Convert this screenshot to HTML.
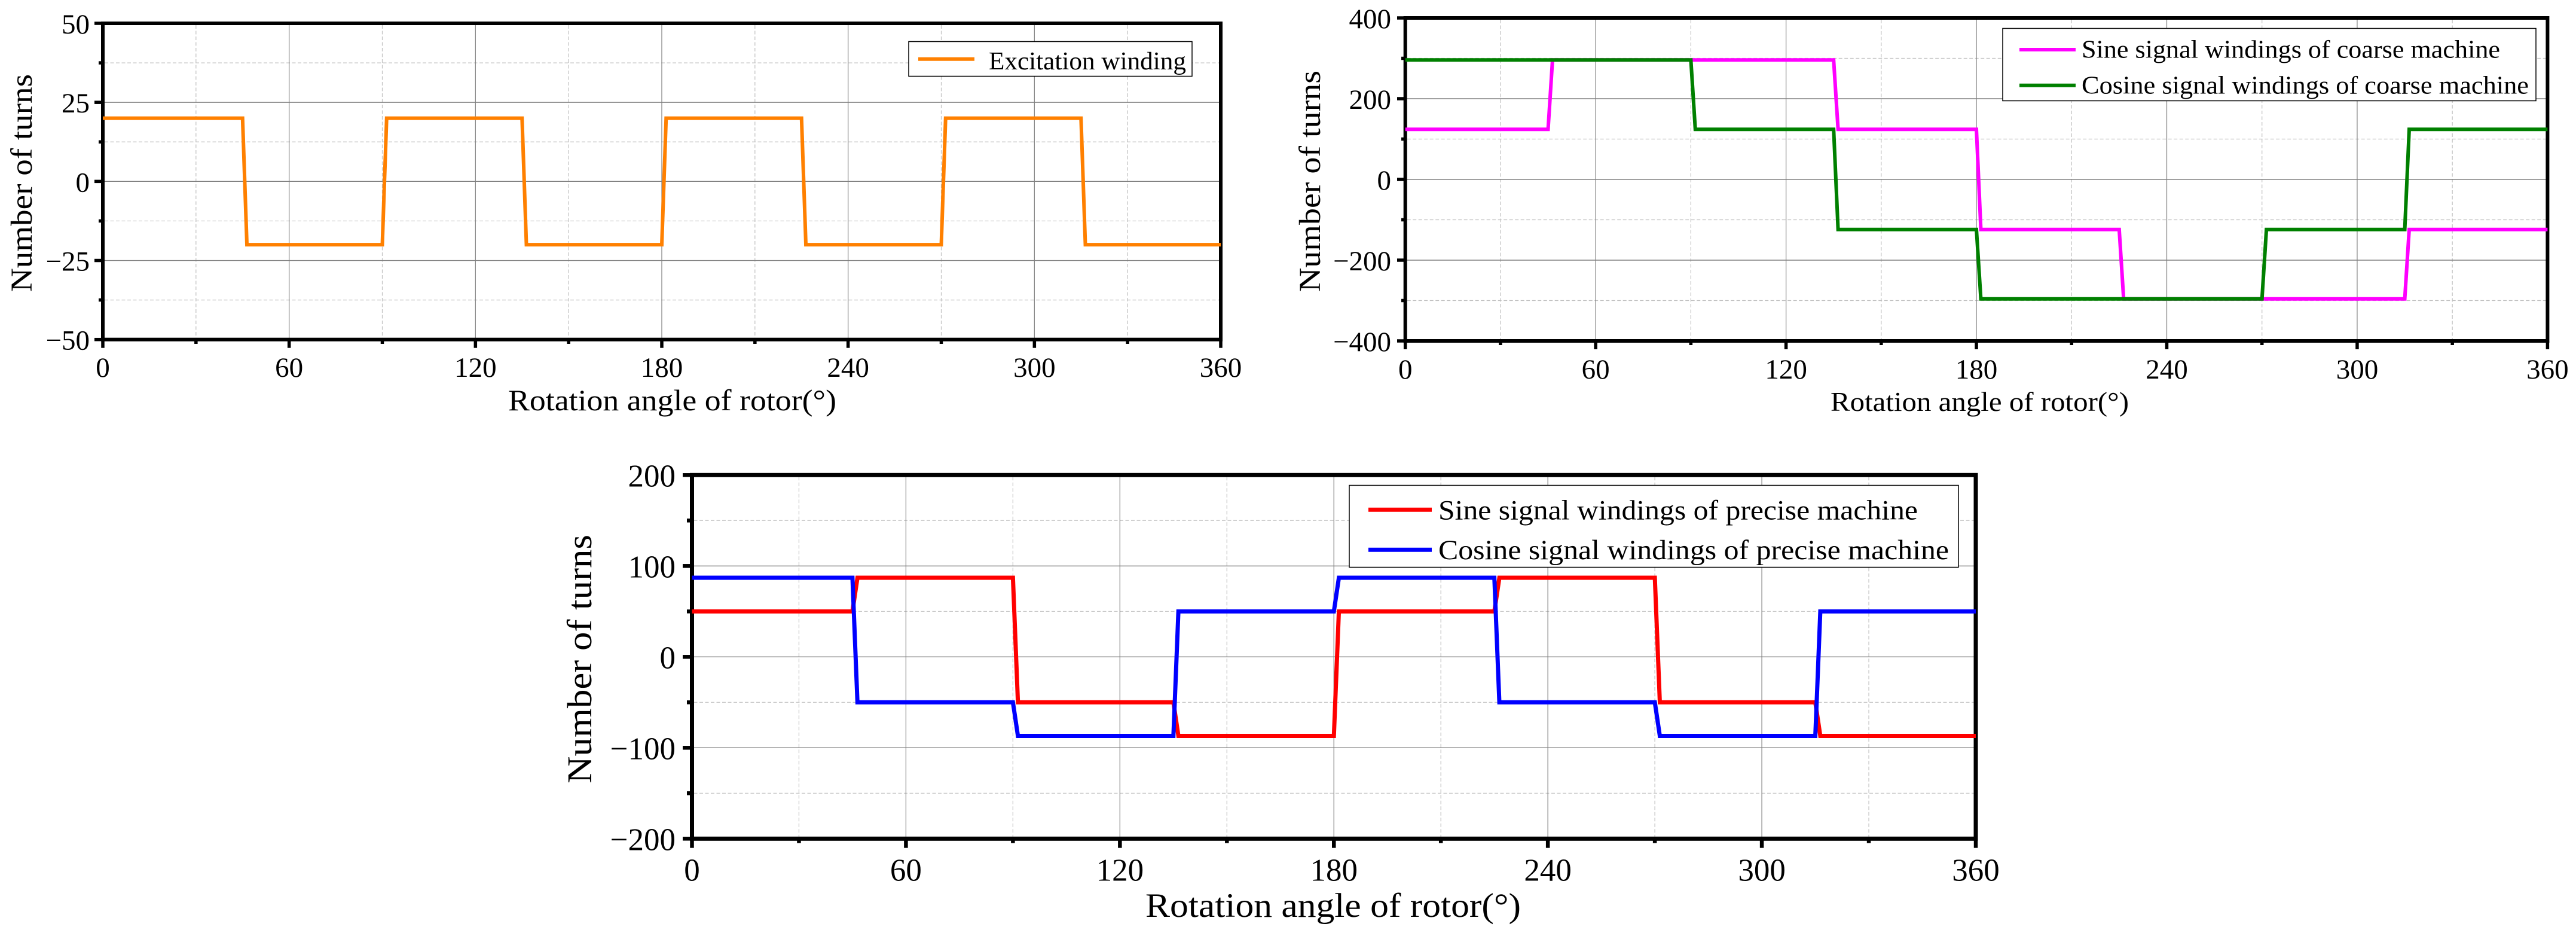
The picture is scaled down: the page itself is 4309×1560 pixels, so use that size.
<!DOCTYPE html>
<html lang="en">
<head>
<meta charset="utf-8">
<title>Winding turns versus rotor rotation angle</title>
<style>
  html, body { margin: 0; padding: 0; background: #fff; }
  svg { display: block; }
  text { font-family: "Liberation Serif", serif; fill: #000; }
</style>
</head>
<body>
<svg xmlns="http://www.w3.org/2000/svg" width="4309" height="1560" viewBox="0 0 4309 1560">
  <rect width="4309" height="1560" fill="#fff"/>

  <g id="chart-excitation">
    <g id="plot-excitation"></g>
    <text transform="translate(53,488) rotate(-90)" font-size="51" textLength="364" lengthAdjust="spacingAndGlyphs">Number of turns</text>
    <text x="850" y="686" font-size="50" textLength="549" lengthAdjust="spacingAndGlyphs">Rotation angle of rotor(°)</text>
    <g>
      <rect x="1520" y="69.5" width="474" height="58" fill="#fff" stroke="#000" stroke-width="1.5"/>
      <line x1="1536" x2="1630" y1="98.7" y2="98.7" stroke="#ff8000" stroke-width="6"/>
      <text x="1654" y="116" font-size="42" textLength="330" lengthAdjust="spacingAndGlyphs">Excitation winding</text>
    </g>
  </g>

  <g id="chart-coarse">
    <g id="plot-coarse"></g>
    <text transform="translate(2208,488) rotate(-90)" font-size="51" textLength="370" lengthAdjust="spacingAndGlyphs">Number of turns</text>
    <text x="3062" y="687" font-size="46" textLength="499" lengthAdjust="spacingAndGlyphs">Rotation angle of rotor(°)</text>
    <g>
      <rect x="3350" y="47.5" width="892" height="121" fill="#fff" stroke="#000" stroke-width="1.5"/>
      <line x1="3378" x2="3472" y1="83" y2="83" stroke="#ff00ff" stroke-width="6"/>
      <text x="3482" y="96.7" font-size="42" textLength="700" lengthAdjust="spacingAndGlyphs">Sine signal windings of coarse machine</text>
      <line x1="3378" x2="3472" y1="142.7" y2="142.7" stroke="#008000" stroke-width="6"/>
      <text x="3482" y="156.7" font-size="42" textLength="748" lengthAdjust="spacingAndGlyphs">Cosine signal windings of coarse machine</text>
    </g>
  </g>

  <g id="chart-precise">
    <g id="plot-precise"></g>
    <text transform="translate(989,1310) rotate(-90)" font-size="58" textLength="416" lengthAdjust="spacingAndGlyphs">Number of turns</text>
    <text x="1916" y="1533" font-size="57" textLength="628" lengthAdjust="spacingAndGlyphs">Rotation angle of rotor(°)</text>
    <g>
      <rect x="2257" y="811.5" width="1019" height="137" fill="#fff" stroke="#000" stroke-width="1.5"/>
      <line x1="2289" x2="2395" y1="852.3" y2="852.3" stroke="#ff0000" stroke-width="7"/>
      <text x="2406" y="868.3" font-size="47" textLength="802" lengthAdjust="spacingAndGlyphs">Sine signal windings of precise machine</text>
      <line x1="2289" x2="2395" y1="919.3" y2="919.3" stroke="#0000ff" stroke-width="7"/>
      <text x="2406" y="935" font-size="47" textLength="854" lengthAdjust="spacingAndGlyphs">Cosine signal windings of precise machine</text>
    </g>
  </g>
</svg>

<script>
// Shared x axis data
const rotorAngles = [0, 45, 46.4, 90, 91.4, 135, 136.4, 180, 181.4, 225, 226.4, 270, 271.4, 315, 316.4, 360];
const xMajorTicks = [0, 60, 120, 180, 240, 300, 360];
const xMinorTicks = [30, 90, 150, 210, 270, 330];

// Excitation winding chart
const excitationTurns = [20, 20, -20, -20, 20, 20, -20, -20, 20, 20, -20, -20, 20, 20, -20, -20];
const excitationYMajor = [-50, -25, 0, 25, 50];
const excitationYMinor = [-37.5, -12.5, 12.5, 37.5];

// Coarse machine chart
const sineCoarseTurns = [124, 124, 296, 296, 296, 296, 124, 124, -124, -124, -296, -296, -296, -296, -124, -124];
const cosineCoarseTurns = [296, 296, 296, 296, 124, 124, -124, -124, -296, -296, -296, -296, -124, -124, 124, 124];
const coarseYMajor = [-400, -200, 0, 200, 400];
const coarseYMinor = [-300, -100, 100, 300];

// Precise machine chart
const sinePreciseTurns = [50, 50, 87, 87, -50, -50, -87, -87, 50, 50, 87, 87, -50, -50, -87, -87];
const cosinePreciseTurns = [87, 87, -50, -50, -87, -87, 50, 50, 87, 87, -50, -50, -87, -87, 50, 50];
const preciseYMajor = [-200, -100, 0, 100, 200];
const preciseYMinor = [-150, -50, 50, 150];

const SVG_NS = 'http://www.w3.org/2000/svg';

function make(tag, attrs, parent) {
  const node = document.createElementNS(SVG_NS, tag);
  for (const key in attrs) node.setAttribute(key, attrs[key]);
  parent.appendChild(node);
  return node;
}

function label(v) {
  return v < 0 ? '\u2212' + Math.abs(v) : String(v);
}

function drawChart(opts) {
  const root = document.getElementById(opts.id);
  const box = opts.box;
  const xScale = (a) => box.left + (a - 0) / 360 * (box.right - box.left);
  const yScale = (v) => box.bottom - (v - opts.yMajor[0]) /
    (opts.yMajor[opts.yMajor.length - 1] - opts.yMajor[0]) * (box.bottom - box.top);

  // Grid
  opts.yMinor.forEach((v) => {
    const el = make('line', { x1: box.left + 3, x2: box.right - 3, y1: yScale(v), y2: yScale(v), stroke: '#c0c0c0', 'stroke-width': 1.2, 'stroke-dasharray': '6 3.5' }, root);
    
    
  });
  xMinorTicks.forEach((a) => {
    const el = make('line', { x1: xScale(a), x2: xScale(a), y1: box.top + 3, y2: box.bottom - 3, stroke: '#c0c0c0', 'stroke-width': 1.2, 'stroke-dasharray': '6 3.5' }, root);
    
    
  });
  opts.yMajor.slice(1, -1).forEach((v) => {
    const el = make('line', { x1: box.left, x2: box.right, y1: yScale(v), y2: yScale(v), stroke: '#808080', 'stroke-width': 1.4 }, root);
    
    
  });
  xMajorTicks.slice(1, -1).forEach((a) => {
    const el = make('line', { x1: xScale(a), x2: xScale(a), y1: box.top, y2: box.bottom, stroke: '#808080', 'stroke-width': 1.2 }, root);
    
    
  });

  // Frame
  const frame = make('rect', { x: box.left, y: box.top, width: box.right - box.left, height: box.bottom - box.top, fill: 'none', stroke: '#000', 'stroke-width': opts.frameWidth }, root);
  
  

  // Y ticks and labels
  opts.yMajor.forEach((v) => {
    const tick = make('line', { x1: opts.yTickMajorEnd, x2: box.left, y1: yScale(v), y2: yScale(v), stroke: '#000', 'stroke-width': opts.frameWidth - 0.5 }, root);
    
    
    const txt = make('text', { x: opts.yLabelRight, y: yScale(v) + opts.yLabelDy, 'font-size': opts.tickFont, 'text-anchor': 'end' }, root);
    
    
    txt.textContent = label(v);
  });
  opts.yMinor.forEach((v) => {
    const tick = make('line', { x1: opts.yTickMinorEnd, x2: box.left, y1: yScale(v), y2: yScale(v), stroke: '#000', 'stroke-width': opts.frameWidth - 0.5 }, root);
    
    
  });

  // X ticks and labels
  xMajorTicks.forEach((a) => {
    const tick = make('line', { x1: xScale(a), x2: xScale(a), y1: box.bottom, y2: opts.xTickMajorEnd, stroke: '#000', 'stroke-width': opts.frameWidth - 0.5 }, root);
    
    
    const txt = make('text', { x: xScale(a), y: opts.xLabelBaseline, 'font-size': opts.tickFont, 'text-anchor': 'middle' }, root);
    
    
    txt.textContent = label(a);
  });
  xMinorTicks.forEach((a) => {
    const tick = make('line', { x1: xScale(a), x2: xScale(a), y1: box.bottom, y2: opts.xTickMinorEnd, stroke: '#000', 'stroke-width': opts.frameWidth - 0.5 }, root);
    
    
  });

  // Series
  opts.series.forEach((s) => {
    const pts = rotorAngles.map((a, i) => xScale(a).toFixed(2) + ',' + yScale(s.values[i]).toFixed(2)).join(' ');
    const line = make('polyline', { points: pts, fill: 'none', stroke: s.color, 'stroke-width': opts.lineWidth, 'stroke-linejoin': 'miter' }, root);
    
    
  });
}

drawChart({
  id: 'plot-excitation',
  box: { left: 172, right: 2042, top: 39, bottom: 567.7 },
  yMajor: excitationYMajor, yMinor: excitationYMinor,
  frameWidth: 6, lineWidth: 6, tickFont: 47,
  yTickMajorEnd: 158, yTickMinorEnd: 165, xTickMajorEnd: 581.7, xTickMinorEnd: 575,
  yLabelRight: 150, yLabelDy: 17, xLabelBaseline: 630,
  series: [{ name: 'excitation-winding-line', color: '#ff8000', values: excitationTurns }]
});

drawChart({
  id: 'plot-coarse',
  box: { left: 2350.7, right: 4261.4, top: 30, bottom: 570 },
  yMajor: coarseYMajor, yMinor: coarseYMinor,
  frameWidth: 6, lineWidth: 6, tickFont: 47,
  yTickMajorEnd: 2337, yTickMinorEnd: 2344, xTickMajorEnd: 584, xTickMinorEnd: 577,
  yLabelRight: 2327, yLabelDy: 17, xLabelBaseline: 633,
  series: [
    { name: 'sine-coarse-line', color: '#ff00ff', values: sineCoarseTurns },
    { name: 'cosine-coarse-line', color: '#008000', values: cosineCoarseTurns }
  ]
});

drawChart({
  id: 'plot-precise',
  box: { left: 1157.5, right: 3305, top: 794.3, bottom: 1402.3 },
  yMajor: preciseYMajor, yMinor: preciseYMinor,
  frameWidth: 7, lineWidth: 7, tickFont: 53,
  yTickMajorEnd: 1142, yTickMinorEnd: 1149, xTickMajorEnd: 1417.7, xTickMinorEnd: 1409.7,
  yLabelRight: 1130, yLabelDy: 19, xLabelBaseline: 1472.7,
  series: [
    { name: 'sine-precise-line', color: '#ff0000', values: sinePreciseTurns },
    { name: 'cosine-precise-line', color: '#0000ff', values: cosinePreciseTurns }
  ]
});
</script>
</body>
</html>
